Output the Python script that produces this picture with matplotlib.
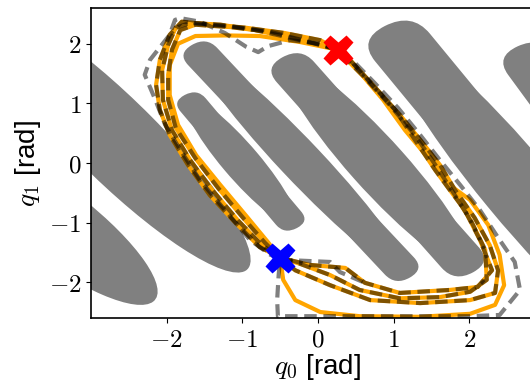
import matplotlib
matplotlib.use("Agg")
import matplotlib.pyplot as plt
from matplotlib.patches import Ellipse, FancyBboxPatch
from matplotlib.transforms import Affine2D

plt.rcParams['mathtext.fontset'] = 'cm'
plt.rcParams['font.family'] = ['Liberation Sans', 'DejaVu Sans']

# ---- tapered obstacles on the left (ellipses): centre, length, thickness, angle (deg)
ell_cx = [-3.52, -2.68]
ell_cy = [-0.98, 0.40]
ell_len = [3.8, 5.6]
ell_thk = [1.12, 1.22]
ell_ang = [-45, -52]

# ---- rounded obstacles: centre, length, mid thickness, end thickness, angle (deg)
rnd_cx = [-1.02, -0.225, 0.79, 2.68, 4.14]
rnd_cy = [0.025, 0.03, -0.03, -0.47, -0.64]
rnd_len = [2.68, 4.85, 4.40, 6.60, 6.00]
rnd_mid = [0.52, 0.60, 0.78, 1.02, 0.85]
rnd_end = [0.40, 0.48, 0.60, 0.86, 0.70]
rnd_ang = [-56.4, -53.5, -55.0, -57.0, -60.0]

# ---- start / goal
red_x, red_y = 0.26, 1.90
blue_x, blue_y = -0.50, -1.59

# ---- trajectories (orange, solid)
loop1_x = [0.26, 0.03, -0.37, -0.83, -1.29, -1.69, -1.88, -1.98, -2.06, -2.05, -1.93, -1.69, -1.40, -1.06, -0.74, -0.50,
           -0.24, 0.16, 0.55, 1.08, 1.61, 2.01, 2.23, 2.21, 2.03, 1.81, 1.55, 1.28, 0.95, 0.62, 0.36, 0.26]
loop1_y = [1.90, 1.98, 2.10, 2.23, 2.32, 2.35, 2.27, 1.98, 1.56, 1.06, 0.55, 0.05, -0.45, -0.96, -1.38, -1.59,
           -1.69, -1.88, -2.13, -2.27, -2.25, -2.16, -1.96, -1.46, -0.99, -0.54, -0.03, 0.47, 0.97, 1.43, 1.76, 1.90]

loop2_x = [0.26, -0.11, -0.63, -1.16, -1.62, -1.82, -1.93, -1.98, -1.98, -1.88, -1.62, -1.32, -0.99, -0.70, -0.50,
           -0.30, 0.16, 0.69, 1.35, 2.01, 2.34, 2.38, 2.27, 2.07, 1.81, 1.61, 1.35, 1.08, 0.75, 0.45, 0.26]
loop2_y = [1.90, 2.03, 2.20, 2.28, 2.32, 2.23, 1.90, 1.48, 1.06, 0.59, 0.08, -0.42, -0.92, -1.34, -1.59,
           -1.80, -2.05, -2.30, -2.35, -2.30, -2.18, -1.80, -1.38, -0.92, -0.45, -0.03, 0.39, 0.81, 1.26, 1.69, 1.90]

loop3_x = [0.26, -0.24, -0.77, -1.23, -1.62, -1.85, -1.96, -1.96, -1.85, -1.61, -1.29, -0.96, -0.66, -0.50,
           -0.46, -0.30, 0.03, 0.55, 1.35, 2.01, 2.34, 2.46, 2.40, 2.25, 2.01, 1.74, 1.48, 1.15, 0.86, 0.58, 0.26]
loop3_y = [1.90, 2.03, 2.13, 2.14, 2.13, 2.00, 1.64, 1.14, 0.64, 0.13, -0.37, -0.87, -1.33, -1.59,
           -1.96, -2.30, -2.50, -2.57, -2.58, -2.53, -2.38, -2.05, -1.54, -1.04, -0.62, -0.37, 0.05, 0.55, 1.06, 1.48, 1.90]

loop4_x = [0.26, 0.03, -0.44, -0.96, -1.49, -1.80, -1.96, -2.09, -2.14, -2.09, -1.96, -1.72, -1.43, -1.10, -0.77, -0.50,
           -0.11, 0.36, 0.62, 1.08, 1.74, 2.11, 2.30, 2.14, 1.94, 1.74, 1.55, 1.28, 1.02, 0.69, 0.42, 0.26]
loop4_y = [1.90, 2.06, 2.18, 2.27, 2.33, 2.37, 2.15, 1.73, 1.31, 0.89, 0.47, -0.03, -0.54, -0.99, -1.41, -1.59,
           -1.71, -1.76, -2.01, -2.18, -2.13, -2.08, -1.80, -1.29, -0.79, -0.45, -0.12, 0.39, 0.89, 1.36, 1.73, 1.90]

# ---- reference paths (black dashed, translucent) that leave the orange ones
ref5_x = [0.26, 0.03, -0.37, -0.66, -0.79, -0.95, -1.23, -1.56, -1.82, -1.89, -1.96, -2.22, -2.29, -2.15, -2.02, -1.82,
          -1.56, -1.23, -0.90, -0.63, -0.50, -0.52, -0.54, -0.53, 0.03, 1.08, 2.01, 2.40, 2.67, 2.60, 2.40, 2.14, 1.88,
          1.61, 1.35, 1.06, 0.75, 0.45, 0.26]
ref5_y = [1.90, 2.00, 2.06, 1.96, 1.86, 1.95, 2.18, 2.37, 2.43, 2.40, 2.15, 1.73, 1.48, 1.06, 0.64, 0.22,
          -0.29, -0.79, -1.29, -1.54, -1.59, -1.88, -2.30, -2.57, -2.57, -2.57, -2.57, -2.55, -2.13, -1.66, -1.29, -0.79, -0.37,
          0.05, 0.47, 0.92, 1.34, 1.73, 1.90]
ref6_x = [-0.50, -0.37, 0.16, 0.29, 0.62]
ref6_y = [-1.59, -1.63, -1.66, -1.83, -2.01]

x_ticks = [-2, -1, 0, 1, 2]
x_tick_labels = ['$-2$', '$-1$', '$0$', '$1$', '$2$']
y_ticks = [-2, -1, 0, 1, 2]
y_tick_labels = ['$-2$', '$-1$', '$0$', '$1$', '$2$']

GRAY = '#808080'

fig = plt.figure(figsize=(5.30, 3.81), dpi=100)
ax = fig.add_axes([0.1717, 0.1654, 0.8566, 0.8136])

for cx, cy, ln, th, an in zip(ell_cx, ell_cy, ell_len, ell_thk, ell_ang):
    ax.add_patch(Ellipse((cx, cy), ln, th, angle=an, facecolor=GRAY, edgecolor='none', zorder=1))

for cx, cy, ln, tm, te, an in zip(rnd_cx, rnd_cy, rnd_len, rnd_mid, rnd_end, rnd_ang):
    # rounded ends
    p = FancyBboxPatch((cx - ln / 2, cy - te / 2), ln, te,
                       boxstyle="round,pad=0,rounding_size=%f" % (te / 2),
                       facecolor=GRAY, edgecolor='none', zorder=1)
    p.set_transform(Affine2D().rotate_deg_around(cx, cy, an) + ax.transData)
    ax.add_patch(p)
    # fuller middle
    ax.add_patch(Ellipse((cx, cy), ln * 0.96, tm, angle=an, facecolor=GRAY, edgecolor='none', zorder=1))

for lx, ly in [(loop1_x, loop1_y), (loop2_x, loop2_y), (loop3_x, loop3_y), (loop4_x, loop4_y)]:
    ax.plot(lx, ly, color='orange', lw=3, solid_capstyle='round', zorder=2)

for lx, ly in [(loop1_x, loop1_y), (loop2_x, loop2_y), (loop4_x, loop4_y), (ref5_x, ref5_y), (ref6_x, ref6_y)]:
    ax.plot(lx, ly, color='black', lw=3, dashes=(3, 1.6), alpha=0.5, zorder=3)

ax.plot([red_x], [red_y], marker='X', color='red', ms=22, mec='none', ls='none', zorder=5)
ax.plot([blue_x], [blue_y], marker='X', color='blue', ms=22, mec='none', ls='none', zorder=5)

ax.set_xlim(-3.0, 3.0)
ax.set_ylim(-2.6, 2.6)
ax.set_xticks(x_ticks)
ax.set_xticklabels(x_tick_labels, fontsize=18)
ax.set_yticks(y_ticks)
ax.set_yticklabels(y_tick_labels, fontsize=18)
ax.set_xlabel('$q_0$ [rad]', fontsize=20, labelpad=0.5)
ax.set_ylabel('$q_1$ [rad]', fontsize=20)
for s in ax.spines.values():
    s.set_linewidth(1.2)

fig.savefig('out.png', dpi=100)
